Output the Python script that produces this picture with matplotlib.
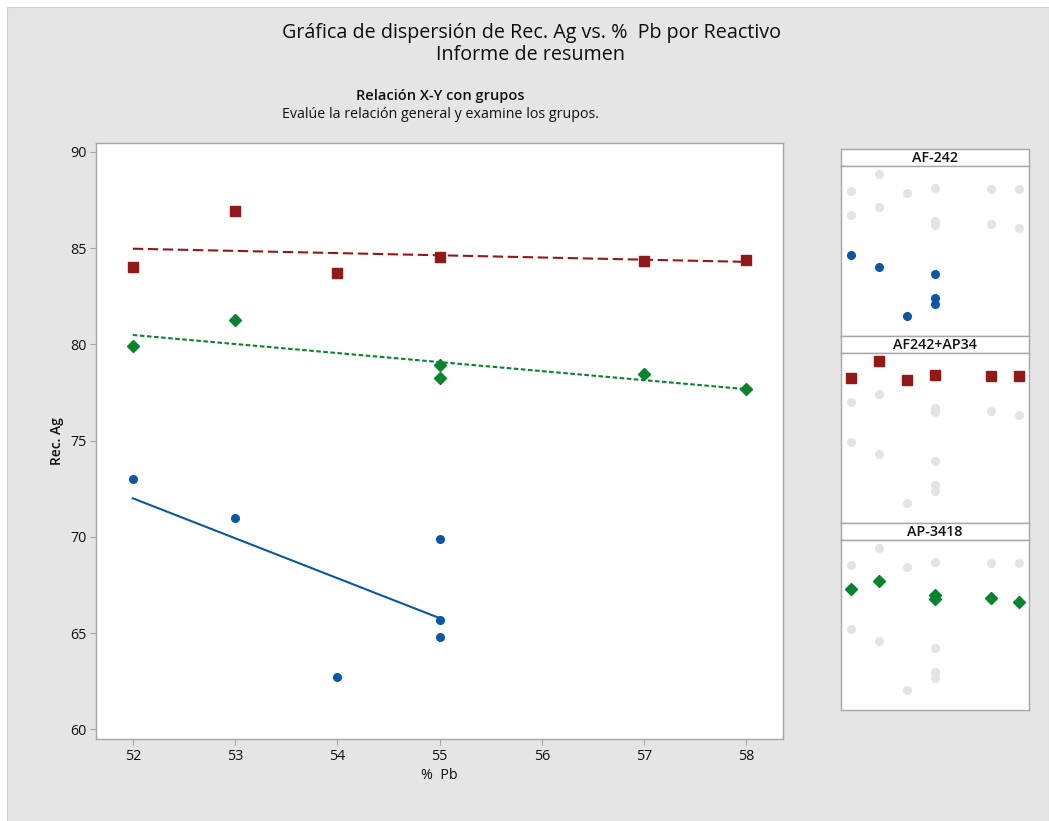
import numpy as np
import matplotlib
matplotlib.use("Agg")
import matplotlib.pyplot as plt
from matplotlib.patches import Rectangle

plt.rcParams['font.family'] = ['Open Sans', 'DejaVu Sans']

# Data: % Pb vs. Rec. Ag, by reagent
groups = ["AF-242", "AF242+AP34", "AP-3418"]
pb_af242 = [52, 53, 54, 55, 55, 55]
ag_af242 = [73.0, 71.0, 62.7, 69.9, 65.7, 64.8]
pb_af242_ap34 = [52, 53, 54, 55, 57, 58]
ag_af242_ap34 = [84.0, 86.9, 83.7, 84.55, 84.3, 84.4]
pb_ap3418 = [52, 53, 55, 55, 57, 58]
ag_ap3418 = [79.9, 81.25, 78.9, 78.25, 78.45, 77.7]

x_ticks = [52, 53, 54, 55, 56, 57, 58]
y_ticks = [60, 65, 70, 75, 80, 85, 90]

series = [
    (pb_af242, ag_af242),
    (pb_af242_ap34, ag_af242_ap34),
    (pb_ap3418, ag_ap3418),
]
colors = ["#0a57a6", "#951818", "#06852c"]
markers = ["o", "s", "D"]
msizes = [5.5, 7, 6.5]
linestyles = ["-", (0, (5, 2.2)), (0, (2.2, 1.2))]
grey_pt = "#e3e3e3"
frame = "#a6a6a6"
bg = "#e5e5e5"

W, H = 1049, 821
fig = plt.figure(figsize=(W / 100, H / 100), dpi=100)
fig.patch.set_facecolor("white")
fig.patches.append(Rectangle((7 / W, 0), 1 - 7 / W, 1 - 7 / H,
                             transform=fig.transFigure, facecolor=bg,
                             edgecolor="#d0d0d0", lw=0.8, zorder=-10))


def fbox(x0, y0, x1, y1):
    return [x0 / W, 1 - y1 / H, (x1 - x0) / W, (y1 - y0) / H]


# Titles
fig.text(531 / W, 1 - 33 / H, "Gráfica de dispersión de Rec. Ag vs. %  Pb por Reactivo",
         ha="center", va="center", fontsize=14.2, color="#0d0d0d")
fig.text(531 / W, 1 - 55 / H, "Informe de resumen",
         ha="center", va="center", fontsize=14.2, color="#0d0d0d")
fig.text(440 / W, 1 - 96 / H, "Relación X-Y con grupos",
         ha="center", va="center", fontsize=10.5, fontweight="semibold", color="#111111")
fig.text(440 / W, 1 - 115 / H, "Evalúe la relación general y examine los grupos.",
         ha="center", va="center", fontsize=10.3, color="#111111")

# Main scatter with fitted lines
ax = fig.add_axes(fbox(96, 143.3, 783.3, 739.3))
ax.set_facecolor("white")
for (xs, ys), c, m, ms, ls in zip(series, colors, markers, msizes, linestyles):
    ax.plot(xs, ys, linestyle="none", marker=m, color=c, markersize=ms, zorder=3)
    b1, b0 = np.polyfit(xs, ys, 1)
    xl = np.array([min(xs), max(xs)])
    ax.plot(xl, b0 + b1 * xl, color=c, lw=1.5, linestyle=ls, zorder=2)

ax.set_xlim(51.64, 58.36)
ax.set_ylim(59.48, 90.44)
ax.set_xticks(x_ticks)
ax.set_yticks(y_ticks)
ax.tick_params(axis="both", colors=frame, labelcolor="#111111", labelsize=10.3,
               length=4, width=0.8, pad=3)
for s in ax.spines.values():
    s.set_color(frame)
    s.set_linewidth(1.0)
ax.set_xlabel("%  Pb", fontsize=10.3, color="#111111", labelpad=3)
ax.set_ylabel("Rec. Ag", fontsize=10, fontweight="semibold", color="#111111", labelpad=4)

# Side panels: each group highlighted over all points in grey
top = 149.3
hh, ph = 16.3, 170.7
for i, name in enumerate(groups):
    y0 = top + i * (hh + ph)
    hax = fig.add_axes(fbox(840.7, y0, 1029.3, y0 + hh))
    hax.set_xticks([]); hax.set_yticks([])
    hax.set_facecolor("white")
    for s in hax.spines.values():
        s.set_color(frame); s.set_linewidth(1.0)
    hax.text(0.5, 0.47, name, ha="center", va="center", fontsize=10.3,
             fontweight="semibold", color="#111111", transform=hax.transAxes)

    pax = fig.add_axes(fbox(840.7, y0 + hh, 1029.3, y0 + hh + ph))
    pax.set_xticks([]); pax.set_yticks([])
    pax.set_facecolor("white")
    for s in pax.spines.values():
        s.set_color(frame); s.set_linewidth(1.0)
    for j, (xs, ys) in enumerate(series):
        if j != i:
            pax.plot(xs, ys, linestyle="none", marker="o", color=grey_pt,
                     markersize=5.5, zorder=2)
    xs, ys = series[i]
    pax.plot(xs, ys, linestyle="none", marker=markers[i], color=colors[i],
             markersize=[5.5, 7, 6][i], zorder=3)
    pax.set_xlim(51.62, 58.38)
    pax.set_ylim(59.2, 88.35)

fig.savefig("out.png", dpi=100)
